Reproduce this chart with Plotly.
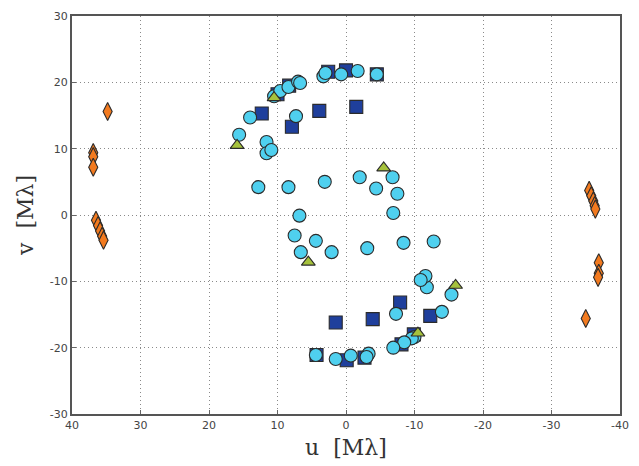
import plotly.graph_objects as go

# Circles (light blue)
circ_u = [15.6, 14.0, 11.6, 11.6, 10.9, 10.5, 9.6, 8.4, 7.0, 6.7, 7.3, 3.3, 3.0, 0.7, -1.7, -4.5,
          12.8, 8.4, 3.1, 6.8, 7.5, 4.4, 6.6, 2.1,
          -15.4, -14.0, -11.8, -11.6, -10.9, -10.0, -9.6, -8.5, -6.9, -7.3, -3.3, -3.0, -0.7, 1.5, 4.4,
          -12.8, -8.4, -3.1, -6.9, -7.5, -4.4, -6.8, -2.0]
circ_v = [12.1, 14.7, 11.0, 9.3, 9.8, 17.9, 18.7, 19.3, 20.1, 19.9, 14.9, 20.9, 21.4, 21.2, 21.7, 21.2,
          4.2, 4.2, 5.0, -0.1, -3.1, -3.9, -5.6, -5.6,
          -12.0, -14.6, -10.9, -9.2, -9.8, -18.4, -18.6, -19.2, -20.0, -14.9, -20.9, -21.4, -21.2, -21.7, -21.1,
          -4.0, -4.2, -5.0, 0.3, 3.2, 4.0, 5.7, 5.7]

# Squares (dark blue)
sq_u = [12.3, 7.9, 3.9, -1.5, 10.0, 8.3, 2.6, 0.0, -4.5,
        -12.3, -7.9, -3.9, 1.5, -9.9, -8.1, -2.7, -0.1, 4.3]
sq_v = [15.3, 13.3, 15.7, 16.3, 18.2, 19.5, 21.6, 21.8, 21.2,
        -15.2, -13.2, -15.7, -16.2, -18.0, -19.5, -21.5, -21.9, -21.1]

# Triangles (yellow-green)
tri_u = [15.9, 10.5, -5.5, -16.0, -10.5, 5.5]
tri_v = [10.5, 17.7, 7.1, -10.6, -17.8, -7.1]

# Diamonds (orange)
dia_u = [34.8, 36.9, 36.9, 36.9, 36.5, 36.2, 35.9, 35.6, 35.4,
         -35.0, -36.9, -36.9, -36.8, -35.5, -35.8, -36.1, -36.3, -36.4]
dia_v = [15.6, 9.4, 8.8, 7.2, -0.8, -1.6, -2.4, -3.2, -3.8,
         -15.6, -7.2, -8.8, -9.4, 3.7, 2.9, 2.1, 1.4, 0.9]

x_ticks = [40, 30, 20, 10, 0, -10, -20, -30, -40]
x_labels = ["40", "30", "20", "10", "0", "-10", "-20", "-30", "-40"]
y_ticks = [-30, -20, -10, 0, 10, 20, 30]
y_labels = ["-30", "-20", "-10", "0", "10", "20", "30"]

edge = dict(color="#2b2b2b", width=1.1)
fig = go.Figure()
fig.add_trace(go.Scatter(x=dia_u, y=dia_v, mode="markers",
                         marker=dict(symbol="diamond-tall", size=13, color="#f27a1f", line=edge)))
fig.add_trace(go.Scatter(x=sq_u, y=sq_v, mode="markers",
                         marker=dict(symbol="square", size=13, color="#1f3f9c", line=edge)))
fig.add_trace(go.Scatter(x=circ_u, y=circ_v, mode="markers",
                         marker=dict(symbol="circle", size=13, color="#4fd0ef", line=edge)))
fig.add_trace(go.Scatter(x=tri_u, y=tri_v, mode="markers",
                         marker=dict(symbol="triangle-up", size=12, color="#a6c23c", line=edge)))

axis_common = dict(
    showgrid=True, gridcolor="#8a8a8a", griddash="1px,3px", gridwidth=1.2,
    zeroline=False, showline=True, linecolor="#555555", linewidth=2, mirror=True,
    ticks="inside", ticklen=4, tickcolor="#666666",
    tickfont=dict(family="DejaVu Sans", size=11, color="#444444"),
)
fig.update_layout(
    width=639, height=466,
    margin=dict(l=72, r=10, t=15, b=50),
    paper_bgcolor="white", plot_bgcolor="white",
    showlegend=False,
    xaxis=dict(range=[40, -40], tickvals=x_ticks, ticktext=x_labels,
               title=dict(text="u  [Mλ]", font=dict(family="DejaVu Serif", size=22, color="#333333"),
                          standoff=8),
               **axis_common),
    yaxis=dict(range=[-30, 30], tickvals=y_ticks, ticktext=y_labels,
               title=dict(text="v  [Mλ]", font=dict(family="DejaVu Serif", size=22, color="#333333"),
                          standoff=10),
               **axis_common),
)
fig.write_html("out.html")
